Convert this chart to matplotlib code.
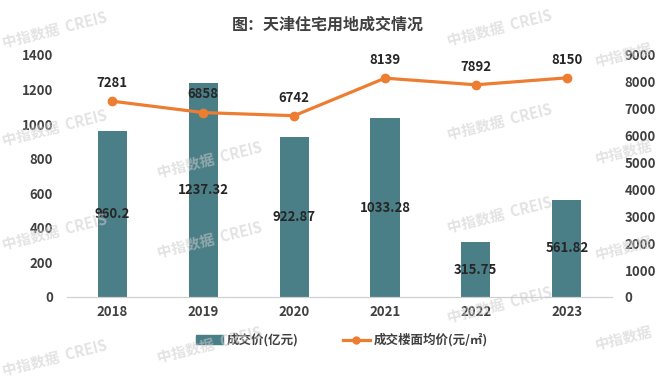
import matplotlib.pyplot as plt
from matplotlib.lines import Line2D
from matplotlib.patches import Patch

plt.rcParams['font.family'] = ['Noto Sans CJK SC', 'DejaVu Sans']

years = ['2018', '2019', '2020', '2021', '2022', '2023']
deal_value = [960.2, 1237.32, 922.87, 1033.28, 315.75, 561.82]   # 亿元
floor_price = [7281, 6858, 6742, 8139, 7892, 8150]              # 元/㎡

bar_color = '#4B7F87'
line_color = '#ED7D31'
text_color = '#404040'

fig = plt.figure(figsize=(6.6, 3.78), dpi=100)
ax = fig.add_axes([0.1015, 0.2143, 0.826, 0.6402])
ax2 = ax.twinx()

x = list(range(len(years)))
ax.bar(x, deal_value, width=0.32, color=bar_color, zorder=2)
for xi, v in zip(x, deal_value):
    ax.text(xi, v / 2, f'{v:g}', ha='center', va='center', fontsize=9.5,
            fontweight='bold', color='#262626', zorder=5)

ax2.plot(x, floor_price, color=line_color, lw=2.3, marker='o', markersize=6, zorder=3)
for xi, v in zip(x, floor_price):
    ax2.annotate(str(v), (xi, v), xytext=(0, 8), textcoords='offset points',
                 ha='center', va='bottom', fontsize=9.5, fontweight='bold', color='#262626')

ax.set_xlim(-0.5, 5.5)
ax.set_ylim(0, 1400)
ax.set_yticks(range(0, 1401, 200))
ax2.set_ylim(0, 9000)
ax2.set_yticks(range(0, 9001, 1000))
ax.set_xticks(x)
ax.set_xticklabels(years)

for a in (ax, ax2):
    for s in ('top', 'left', 'right'):
        a.spines[s].set_visible(False)
    a.spines['bottom'].set_color('#D0D0D0')
    a.tick_params(length=0, labelsize=9.5, labelcolor=text_color)
    for lab in a.get_yticklabels() + a.get_xticklabels():
        lab.set_fontweight('bold')
ax.tick_params(axis='y', pad=10)
ax.tick_params(axis='x', pad=6)
ax2.tick_params(axis='y', pad=9)

fig.text(0.497, 0.934, '图：天津住宅用地成交情况', ha='center', va='center',
         fontsize=11.5, fontweight='bold', color='#404040')

handles = [Patch(color=bar_color), Line2D([0], [0], color=line_color, lw=2.3, marker='o', markersize=5)]
fig.legend(handles, ['成交价(亿元)', '成交楼面均价(元/㎡)'], loc='center',
           bbox_to_anchor=(0.518, 0.1), ncol=2, frameon=False, handlelength=2.2,
           columnspacing=3.5, handletextpad=0.3,
           prop={'family': ['Noto Sans CJK SC', 'DejaVu Sans'], 'weight': 'bold', 'size': 9},
           labelcolor=text_color)

# 水印
marks = [(55, 30), (500, 28), (210, 160), (55, 128), (500, 122),
         (210, 240), (55, 232), (500, 215), (210, 345), (55, 358), (500, 305)]
for mx, my in marks:
    fig.text(mx / 660, 1 - my / 378, '中指数据  CREIS', ha='center', va='center',
             fontsize=10.5, fontweight='bold', color='#CCCCCC', alpha=0.55,
             rotation=14, zorder=10)
edge_marks = [(624, 55), (624, 152), (624, 248), (624, 338)]
for mx, my in edge_marks:
    fig.text(mx / 660, 1 - my / 378, '中指数据', ha='center', va='center',
             fontsize=10.5, fontweight='bold', color='#CCCCCC', alpha=0.55,
             rotation=14, zorder=10)

fig.savefig('out.png', dpi=100)
